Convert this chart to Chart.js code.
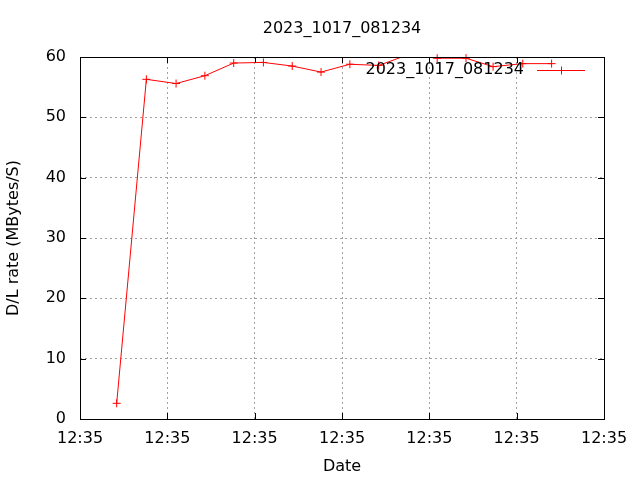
<!DOCTYPE html>
<html><head><meta charset="utf-8">
<script src="https://cdn.jsdelivr.net/npm/chart.js@4/dist/chart.umd.min.js"></script>
<style>html,body{margin:0;padding:0;background:#fff}#wrap{width:640px;height:480px}</style>
</head><body><div id="wrap"><canvas id="c" width="640" height="480"></canvas></div>
<script>
const chartTitle = '2023_1017_081234';
const seriesLabel = '2023_1017_081234';
const xTitle = 'Date';
const yTitle = 'D/L rate (MBytes/S)';
const timeSeconds = [4.2, 7.6, 11.0, 14.3, 17.6, 21.0, 24.3, 27.6, 30.9, 34.2, 37.6, 40.9, 44.2, 47.3, 50.7, 54.0];
const rateMBps = [2.6, 56.3, 55.6, 56.9, 59.0, 59.1, 58.5, 57.5, 58.8, 58.6, 60.4, 59.8, 59.8, 58.4, 58.9, 58.9];
const xTickLabel = '12:35';
const xRange = [0, 60];
const yRange = [0, 60];
const tickStep = 10;

const FONT = 'DejaVu Sans';
const points = timeSeconds.map((t, i) => ({x: t, y: rateMBps[i]}));

const framePlugin = {
  id: 'frame',
  afterDatasetsDraw(chart) {
    const {ctx, chartArea: a, scales} = chart;
    ctx.save();
    ctx.strokeStyle = '#000';
    ctx.lineWidth = 1;
    ctx.setLineDash([]);
    ctx.beginPath();
    scales.y.ticks.forEach(t => {
      if (t.value <= yRange[0] || t.value >= yRange[1]) return;
      const py = Math.round(scales.y.getPixelForValue(t.value)) + 0.5;
      ctx.moveTo(a.left, py); ctx.lineTo(a.left + 6, py);
      ctx.moveTo(a.right, py); ctx.lineTo(a.right - 6, py);
    });
    scales.x.ticks.forEach(t => {
      if (t.value <= xRange[0] || t.value >= xRange[1]) return;
      const px = Math.round(scales.x.getPixelForValue(t.value)) + 0.5;
      ctx.moveTo(px, a.bottom); ctx.lineTo(px, a.bottom - 6);
      ctx.moveTo(px, a.top); ctx.lineTo(px, a.top + 6);
    });
    ctx.stroke();
    ctx.strokeRect(Math.round(a.left) + 0.5, Math.round(a.top) + 0.5, Math.round(a.right - a.left), Math.round(a.bottom - a.top));
    // key
    const ky = a.top + 13;
    ctx.font = '16px "' + FONT + '"';
    ctx.fillStyle = '#000';
    ctx.textAlign = 'right';
    ctx.textBaseline = 'middle';
    ctx.fillText(seriesLabel, a.right - 80, ky);
    ctx.strokeStyle = '#ff0000';
    ctx.beginPath();
    const ly = Math.round(ky) + 0.5;
    ctx.moveTo(a.right - 67, ly); ctx.lineTo(a.right - 19, ly);
    const mx = Math.round(a.right - 43) + 0.5;
    ctx.moveTo(mx - 4, ly); ctx.lineTo(mx + 4, ly);
    ctx.moveTo(mx, ly - 4); ctx.lineTo(mx, ly + 4);
    ctx.stroke();
    ctx.restore();
  }
};

new Chart(document.getElementById('c'), {
  type: 'scatter',
  data: {
    datasets: [
      {
        label: seriesLabel,
        data: points,
        showLine: true,
        borderColor: '#ff0000',
        backgroundColor: '#ff0000',
        borderWidth: 1,
        pointRadius: 0,
        tension: 0,
        clip: 0
      },
      {
        label: seriesLabel,
        data: points,
        showLine: false,
        borderColor: '#ff0000',
        backgroundColor: '#ff0000',
        borderWidth: 1,
        pointStyle: 'cross',
        pointRadius: ctx => (ctx.raw && ctx.raw.y > yRange[1]) ? 0 : 4,
        pointHoverRadius: 4,
        clip: 8
      }
    ]
  },
  options: {
    responsive: false,
    devicePixelRatio: 1,
    animation: false,
    events: [],
    layout: {padding: {top: 0, left: 0, right: 36, bottom: 0}},
    plugins: {
      legend: {display: false},
      tooltip: {enabled: false},
      title: {
        display: true,
        fullSize: false,
        text: chartTitle,
        color: '#000',
        font: {family: FONT, size: 16, weight: 'normal'},
        padding: {top: 19.4, bottom: 18.4}
      }
    },
    scales: {
      x: {
        type: 'linear',
        min: xRange[0], max: xRange[1],
        afterFit: s => { s.height = 61; },
        afterBuildTicks: s => { const t = []; for (let v = xRange[0]; v <= xRange[1]; v += tickStep) t.push({value: v}); s.ticks = t; },
        ticks: {
          stepSize: tickStep, autoSkip: false, maxRotation: 0, padding: 10,
          color: '#000', font: {family: FONT, size: 16},
          callback: () => xTickLabel
        },
        grid: {display: true, color: '#a0a0a0', lineWidth: 1, drawTicks: false},
        border: {display: false, dash: [2, 3]},
        title: {display: true, text: xTitle, color: '#000', font: {family: FONT, size: 16}, padding: {top: 4, bottom: 3.4}}
      },
      y: {
        type: 'linear',
        min: yRange[0], max: yRange[1],
        afterFit: s => { s.width = 80; },
        ticks: {
          stepSize: tickStep, padding: 14,
          color: '#000', font: {family: FONT, size: 16}
        },
        grid: {display: true, color: '#a0a0a0', lineWidth: 1, drawTicks: false},
        border: {display: false, dash: [2, 3]},
        title: {display: true, text: yTitle, color: '#000', font: {family: FONT, size: 16}, padding: {top: 4, bottom: 4}}
      }
    }
  },
  plugins: [framePlugin]
});
</script>
</body></html>
